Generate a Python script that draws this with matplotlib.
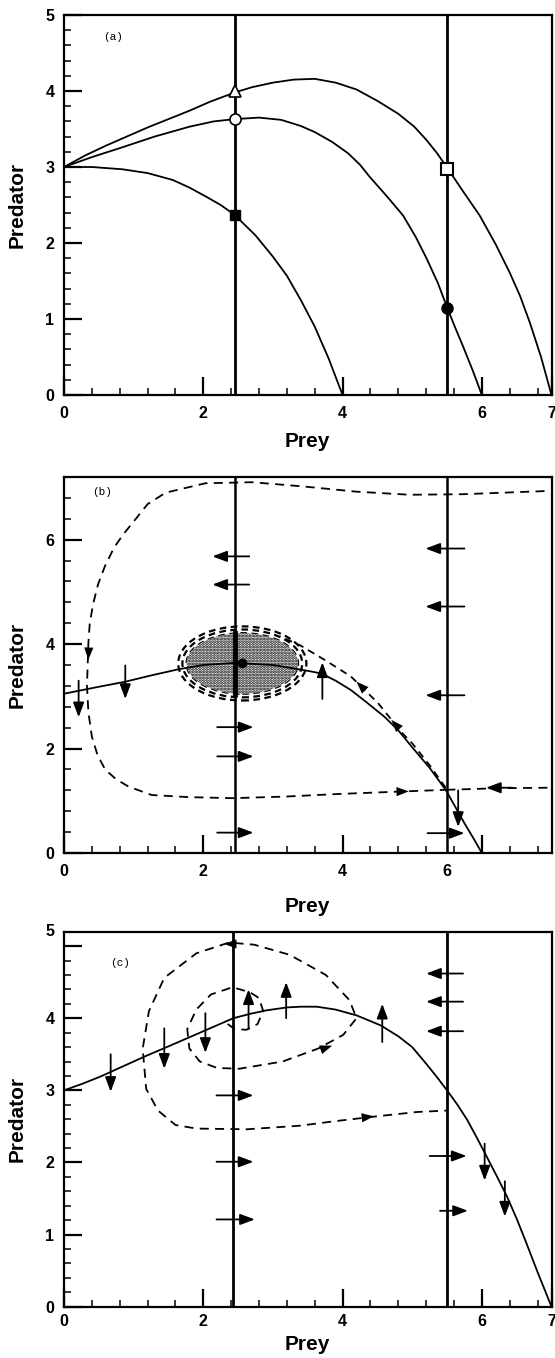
import matplotlib
matplotlib.use("Agg")
import matplotlib.pyplot as plt
from matplotlib.patches import Ellipse
from matplotlib.ticker import MultipleLocator

plt.rcParams['font.family'] = ['Liberation Sans', 'DejaVu Sans']
plt.rcParams['hatch.linewidth'] = 1.4

# ---------------- data: panel (a) ----------------
a_top_x = [0, 0.3, 0.6, 0.9, 1.2, 1.5, 1.8, 2.1, 2.45, 2.7, 3.0, 3.3, 3.6, 3.9, 4.2, 4.5, 4.8,
           5.03, 5.2, 5.35, 5.51, 5.7, 5.97, 6.2, 6.4, 6.55, 6.69, 6.85, 7.0]
a_top_y = [3.0, 3.15, 3.28, 3.4, 3.52, 3.63, 3.74, 3.86, 3.98, 4.05, 4.11, 4.15, 4.16, 4.11, 4.02,
           3.87, 3.7, 3.53, 3.36, 3.19, 2.98, 2.72, 2.36, 1.98, 1.61, 1.3, 0.95, 0.5, 0.0]
a_mid_x = [0, 0.4, 0.84, 1.3, 1.8, 2.15, 2.45, 2.8, 3.12, 3.4, 3.6, 3.85, 4.08, 4.25, 4.39, 4.65,
           4.87, 5.05, 5.21, 5.37, 5.51, 5.62, 5.73, 5.87, 6.0]
a_mid_y = [3.0, 3.13, 3.26, 3.4, 3.53, 3.6, 3.63, 3.65, 3.62, 3.54, 3.46, 3.33, 3.18, 3.03, 2.87, 2.6,
           2.36, 2.08, 1.79, 1.47, 1.13, 0.88, 0.64, 0.32, 0.0]
a_low_x = [0, 0.4, 0.84, 1.2, 1.56, 1.8, 2.04, 2.25, 2.45, 2.75, 3.0, 3.2, 3.4, 3.6, 3.8, 4.0]
a_low_y = [3.0, 3.0, 2.97, 2.92, 2.83, 2.73, 2.61, 2.5, 2.37, 2.1, 1.82, 1.57, 1.25, 0.9, 0.48, 0.0]
a_vlines = [2.45, 5.5]
a_open_tri = (2.45, 4.0)
a_open_circ = (2.45, 3.63)
a_fill_sq = (2.45, 2.37)
a_open_sq = (5.5, 2.98)
a_fill_circ = (5.5, 1.15)

# ---------------- data: panel (b) ----------------
b_iso_x = [0, 0.45, 0.88, 1.25, 1.65, 2.0, 2.45, 3.0, 3.45, 3.69, 3.9, 4.12, 4.35, 4.6, 4.8, 4.99,
           5.25, 5.48, 5.62, 5.75, 5.88, 6.0]
b_iso_y = [3.05, 3.17, 3.28, 3.4, 3.52, 3.6, 3.64, 3.6, 3.5, 3.44, 3.3, 3.12, 2.88, 2.61, 2.35, 2.04,
           1.63, 1.21, 0.88, 0.57, 0.28, 0.0]
b_vlines = [2.45, 5.5]
b_loop_x = [6.9, 5.72, 4.96, 4.19, 3.43, 2.7, 2.03, 1.46, 1.2, 1.02, 0.85, 0.72, 0.59, 0.49, 0.42,
            0.37, 0.35, 0.33, 0.35, 0.4, 0.48, 0.59, 0.75, 0.93, 1.26, 1.79, 2.42, 3.17, 3.94, 4.7, 5.49]
b_loop_y = [6.93, 6.87, 6.86, 6.92, 7.02, 7.1, 7.08, 6.9, 6.68, 6.38, 6.1, 5.85, 5.5, 5.15, 4.78,
            4.4, 4.02, 3.2, 2.7, 2.23, 1.88, 1.6, 1.41, 1.27, 1.11, 1.07, 1.05, 1.08, 1.13, 1.17, 1.21]
b_right_x = [5.49, 6.23, 6.95]
b_right_y = [1.21, 1.24, 1.25]
b_unst_x = [5.48, 5.25, 5.0, 4.84, 4.51, 4.12, 3.74, 3.4, 3.1]
b_unst_y = [1.25, 1.68, 2.1, 2.32, 2.87, 3.38, 3.7, 3.97, 4.15]
b_cycle_center = (2.56, 3.63)
b_cycle_w = [1.84, 1.72, 1.6]
b_cycle_h = [1.42, 1.3, 1.16]
# arrows: (x_tail, y_tail, x_head, y_head)
b_arrows = [
    (2.66, 5.68, 2.13, 5.68), (2.66, 5.14, 2.13, 5.14),
    (2.2, 2.41, 2.72, 2.41), (2.2, 1.85, 2.72, 1.85), (2.2, 0.39, 2.72, 0.39),
    (5.75, 5.83, 5.19, 5.83), (5.75, 4.72, 5.19, 4.72), (5.75, 3.02, 5.19, 3.02),
    (5.22, 0.38, 5.75, 0.38),
    (6.44, 1.25, 6.06, 1.25),
    (0.21, 3.3, 0.21, 2.6), (0.88, 3.59, 0.88, 2.95), (3.71, 2.95, 3.71, 3.65),
    (5.66, 1.2, 5.66, 0.5),
]
b_heads = [(4.6, 1.17, 4.95, 1.18), (0.36, 4.1, 0.35, 3.7),
           (4.45, 2.95, 4.2, 3.28), (4.9, 2.25, 4.7, 2.55)]

# ---------------- data: panel (c) ----------------
c_iso_x = [0, 0.26, 0.52, 0.84, 1.16, 1.5, 1.81, 2.12, 2.43, 2.67, 2.91, 3.2, 3.4, 3.63, 3.9, 4.2,
           4.55, 4.8, 5.0, 5.2, 5.35, 5.5, 5.65, 5.79, 5.93, 6.07, 6.22, 6.36, 6.5, 6.62, 6.8, 7.0]
c_iso_y = [3.0, 3.09, 3.19, 3.33, 3.47, 3.61, 3.74, 3.87, 4.0, 4.06, 4.11, 4.15, 4.16, 4.16, 4.12, 4.04,
           3.9, 3.75, 3.6, 3.37, 3.19, 3.0, 2.8, 2.59, 2.34, 2.08, 1.8, 1.53, 1.22, 0.93, 0.48, 0.0]
c_vlines = [2.43, 5.5]
c_spiral_x = [2.35, 2.45, 2.62, 2.78, 2.86, 2.8, 2.67, 2.42, 2.11, 1.9, 1.77, 1.8, 1.95, 2.2, 2.52,
              3.14, 3.65, 4.01, 4.2, 4.1, 3.76, 3.24, 2.73, 2.37, 1.9, 1.44, 1.22, 1.13, 1.18,
              1.35, 1.6, 1.9, 2.62, 3.39, 3.87, 4.49, 5.07, 5.5]
c_spiral_y = [3.92, 3.85, 3.84, 3.92, 4.1, 4.28, 4.36, 4.43, 4.33, 4.12, 3.85, 3.58, 3.4, 3.31, 3.3,
              3.4, 3.58, 3.77, 4.0, 4.25, 4.6, 4.88, 5.02, 5.05, 4.9, 4.56, 4.1, 3.58, 3.02,
              2.72, 2.52, 2.47, 2.46, 2.51, 2.57, 2.64, 2.70, 2.72]
c_arrows = [
    (2.19, 2.93, 2.72, 2.93), (2.19, 2.01, 2.72, 2.01), (2.19, 1.21, 2.74, 1.21),
    (5.73, 4.62, 5.2, 4.62), (5.73, 4.23, 5.2, 4.23), (5.73, 3.82, 5.2, 3.82),
    (5.25, 2.09, 5.78, 2.09), (5.4, 1.33, 5.8, 1.33),
    (0.67, 3.5, 0.67, 2.98), (1.44, 3.86, 1.44, 3.3), (2.03, 4.07, 2.03, 3.52),
    (2.65, 3.85, 2.65, 4.4), (3.19, 4.0, 3.19, 4.5), (4.57, 3.67, 4.57, 4.2),
    (6.04, 2.26, 6.04, 1.75), (6.33, 1.74, 6.33, 1.25),
]
c_heads = [(4.1, 2.6, 4.45, 2.64), (3.5, 3.5, 3.85, 3.62), (2.6, 5.03, 2.3, 5.03)]

LW = 1.3
TICKPAD = 8


def style_axes(ax, xlim, ylim, xmaj, xmin, ymaj, ymin):
    ax.set_xlim(*xlim)
    ax.set_ylim(*ylim)
    ax.xaxis.set_major_locator(MultipleLocator(xmaj))
    ax.xaxis.set_minor_locator(MultipleLocator(xmin))
    ax.yaxis.set_major_locator(MultipleLocator(ymaj))
    ax.yaxis.set_minor_locator(MultipleLocator(ymin))
    ax.tick_params(which='both', direction='in', top=False, right=False)
    ax.tick_params(which='major', length=13, width=1.6, labelsize=11.5, pad=TICKPAD)
    ax.tick_params(axis='y', which='major', pad=7)
    ax.tick_params(which='minor', length=5, width=1.1)
    for s in ax.spines.values():
        s.set_linewidth(1.6)
    ax.set_xlabel('Prey', fontsize=15, fontweight='bold')
    ax.set_ylabel('Predator', fontsize=15, fontweight='bold')
    ax.yaxis.set_label_coords(-0.076, 0.5)


def bold_ticks(ax):
    for lab in ax.get_xticklabels() + ax.get_yticklabels():
        lab.set_fontweight('bold')


def arrow(ax, x0, y0, x1, y1, lw=1.3, ms=11):
    ax.annotate('', xy=(x1, y1), xytext=(x0, y0),
                arrowprops=dict(arrowstyle='-|>,head_length=0.8,head_width=0.3',
                                lw=lw, color='k', shrinkA=0, shrinkB=0,
                                mutation_scale=ms))


fig = plt.figure(figsize=(5.55, 13.58), dpi=100)
W, H = 555.0, 1358.0

# ---------------- panel (a) ----------------
axa = fig.add_axes([64 / W, 1 - 395 / H, 487.5 / W, 380 / H])
axa.plot(a_top_x, a_top_y, 'k-', lw=LW)
axa.plot(a_mid_x, a_mid_y, 'k-', lw=LW)
axa.plot(a_low_x, a_low_y, 'k-', lw=LW)
for v in a_vlines:
    axa.axvline(v, color='k', lw=2.0)
axa.plot(*a_open_tri, marker='^', ms=8, mfc='white', mec='k', mew=1.2)
axa.plot(*a_open_circ, marker='o', ms=8, mfc='white', mec='k', mew=1.2)
axa.plot(*a_fill_sq, marker='s', ms=7, mfc='k', mec='k')
axa.plot(*a_open_sq, marker='s', ms=9, mfc='white', mec='k', mew=1.5)
axa.plot(*a_fill_circ, marker='o', ms=8, mfc='k', mec='k')
style_axes(axa, (0, 7), (0, 5), 2, 0.4, 1, 0.2)
axa.set_xticks([0, 2, 4, 6, 7])
bold_ticks(axa)
axa.xaxis.set_label_coords(0.5, -0.098)
axa.text(0.56, 4.67, '(a)', family='Liberation Mono', fontsize=8)

# ---------------- panel (b) ----------------
axb = fig.add_axes([64 / W, 1 - 853 / H, 487.5 / W, 376 / H])
for w, h in zip(b_cycle_w, b_cycle_h):
    axb.add_patch(Ellipse(b_cycle_center, w, h, fill=False, ls=(0, (3, 2)), lw=1.6, ec='k'))
axb.add_patch(Ellipse(b_cycle_center, b_cycle_w[-1], b_cycle_h[-1], facecolor='white',
                      edgecolor='k', hatch='......', lw=0))
axb.plot(b_iso_x, b_iso_y, 'k-', lw=LW)
for v in b_vlines:
    axb.axvline(v, color='k', lw=1.8)
axb.plot([b_vlines[0], b_vlines[0]], [b_cycle_center[1] - b_cycle_h[-1] / 2,
                                      b_cycle_center[1] + b_cycle_h[-1] / 2], 'k-', lw=3.5)
axb.plot(*b_cycle_center, 'ko', ms=6)
axb.plot(b_loop_x, b_loop_y, 'k--', lw=LW, dashes=(5, 3.5))
axb.plot(b_right_x, b_right_y, 'k--', lw=LW, dashes=(5, 3.5))
axb.plot(b_unst_x, b_unst_y, 'k--', lw=LW, dashes=(4, 3))
for a in b_arrows:
    arrow(axb, *a)
for a in b_heads:
    arrow(axb, *a, lw=0.01)
style_axes(axb, (0, 7), (0, 7.2), 2, 0.4, 2, 0.4)
axb.set_xticks([0, 2, 4, 6], ['0', '2', '4', ''])
bold_ticks(axb)
axb.annotate('6', xy=(5.5, 0), xycoords=('data', 'axes fraction'), xytext=(0, -TICKPAD),
             textcoords='offset points', ha='center', va='top', fontsize=11.5, fontweight='bold')
axb.xaxis.set_label_coords(0.5, -0.118)
axb.text(0.41, 6.85, '(b)', family='Liberation Mono', fontsize=8)

# ---------------- panel (c) ----------------
axc = fig.add_axes([64 / W, 1 - 1306.7 / H, 487.5 / W, 375 / H])
axc.plot(c_iso_x, c_iso_y, 'k-', lw=LW)
for v in c_vlines:
    axc.axvline(v, color='k', lw=2.0)
axc.plot(c_spiral_x, c_spiral_y, 'k--', lw=LW, dashes=(5, 3.5))
for a in c_arrows:
    arrow(axc, *a)
for a in c_heads:
    arrow(axc, *a, lw=0.01)
style_axes(axc, (0, 7), (0, 5.2), 2, 0.4, 1, 0.2)
axc.set_xticks([0, 2, 4, 6, 7])
axc.set_yticks([0, 1, 2, 3, 4, 5], ['0', '1', '2', '3', '4', ''])
bold_ticks(axc)
axc.annotate('5', xy=(0, 1), xycoords='axes fraction', xytext=(-7, 0),
             textcoords='offset points', ha='right', va='center', fontsize=11.5, fontweight='bold')
axc.tick_params(axis='x', which='major', pad=5)
axc.xaxis.set_label_coords(0.5, -0.075)
axc.text(0.66, 4.72, '(c)', family='Liberation Mono', fontsize=8)

fig.savefig('out.png', dpi=100)
